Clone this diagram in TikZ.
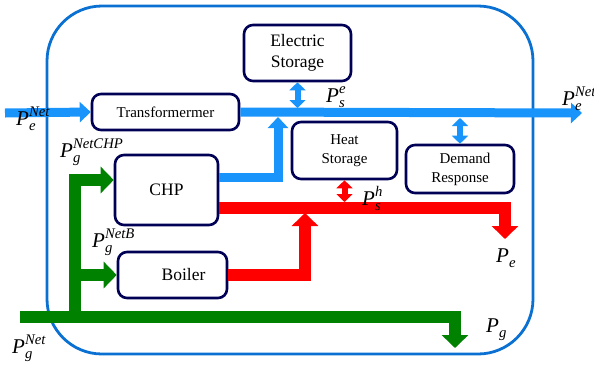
\documentclass[tikz,border=0pt]{standalone}
\usepackage{amsmath}
\usepackage{fontspec}
\setmainfont{Liberation Serif}
\usepackage{tikz}
\usetikzlibrary{calc, arrows.meta}

\definecolor{framecol}{RGB}{10,112,210}
\definecolor{ecol}{RGB}{25,148,250}
\definecolor{hcol}{RGB}{255,0,0}
\definecolor{gcol}{RGB}{0,130,0}
\definecolor{boxcol}{RGB}{0,0,85}

\newcommand{\pflow}[2]{$\textit{P}_{\textit{#1}}^{\textit{#2}}$}

\tikzset{
  unit/.style={draw=boxcol, line width=2.6pt, rounded corners=9pt, inner sep=0pt,
    align=center, font=\fontsize{15}{19}\selectfont},
  big/.style={font=\fontsize{17.5}{21}\selectfont},
  lbl/.style={anchor=base west, inner sep=0pt, font=\fontsize{21}{24}\selectfont},
  eline/.style={draw=ecol, line width=9pt, -{Triangle[width=20pt,length=11pt]}},
  hline/.style={draw=hcol, line width=12pt, -{Triangle[width=26pt,length=13pt]}},
  gline/.style={draw=gcol, line width=12pt, -{Triangle[width=26pt,length=13pt]}},
  eduo/.style={draw=ecol, line width=6pt, {Triangle[width=16pt,length=8pt]}-{Triangle[width=16pt,length=8pt]}},
  hduo/.style={draw=hcol, line width=6pt, {Triangle[width=16pt,length=8pt]}-{Triangle[width=16pt,length=8pt]}}
}

\begin{document}
\begin{tikzpicture}[x=1pt,y=-1pt]
  \useasboundingbox (0,0) rectangle (594,365);
  % outer frame
  \draw[framecol, line width=2.8pt, rounded corners=55pt] (47,6) rectangle (533,354);

  \node[unit, minimum width=147pt, minimum height=36pt] (trans) at (165.5,112) {Transformermer};
  \node[unit, big, minimum width=107pt, minimum height=56pt] (es) at (297.5,53) {Electric\\Storage};
  \node[unit, minimum width=105pt, minimum height=57pt] (hs) at (344.5,150.5) {Heat\\Storage};
  \node[unit, minimum width=108pt, minimum height=48pt] (dr) at (460,169) {\hspace*{10pt}Demand\\Response};
  \node[unit, big, minimum width=103pt, minimum height=70pt] (chp) at (166.5,190) {CHP};
  \node[unit, big, minimum width=109pt, minimum height=46pt] (boiler) at (172.5,275) {\hspace*{22pt}Boiler};

  \coordinate (ein) at (5,113);
  \coordinate (eout) at (582,113);
  \coordinate (eup) at (278,117);
  \coordinate (hup) at (305,213);
  \coordinate (hbus) at (346,202);
  \coordinate (pe) at (505,239);
  \coordinate (gin) at (20,317);
  \coordinate (gsplit) at (75,317);
  \coordinate (pg) at (455,348);

  % electric lines
  \draw[eline] (ein) -- (trans.west);
  \draw[eline] (trans.east) -- (eout);
  \draw[eline] ([yshift=13pt]chp.east) -| (eup);
  \draw[eduo] (es.south) -- ($(es.south |- eout)+(0,-5)$);
  \draw[eduo] (dr.north) -- ($(dr.north |- eout)+(0,5)$);
  % heat lines
  \draw[hline] ([yshift=-18pt]chp.east) -| (pe);
  \draw[hline] (boiler.east) -| (hup);
  \draw[hduo] (hs.south) -- (hs.south |- hbus);
  % gas lines
  \draw[gline] (gin) -| (pg);
  \draw[gline] (gsplit) |- ([yshift=10pt]chp.west);
  \draw[gline] (gsplit |- boiler.west) -- (boiler.west);

  % labels
  \node[lbl] (lein) at (16,125) {\pflow{e}{Net}};
  \node[lbl] (leout) at (562,105) {\pflow{e}{Net}};
  \node[lbl] (lse) at (326,102) {\pflow{s}{e}};
  \node[lbl] (lsh) at (362,205) {\pflow{s}{h}};
  \node[lbl] (lpe) at (496,262) {\pflow{e}{}};
  \node[lbl] (lpg) at (486,332) {\pflow{g}{}};
  \node[lbl] (lchp) at (60,157) {\pflow{g}{NetCHP}};
  \node[lbl] (lb) at (92,247) {\pflow{g}{NetB}};
  \node[lbl] (lgin) at (12,353) {\pflow{g}{Net}};
\end{tikzpicture}
\end{document}
